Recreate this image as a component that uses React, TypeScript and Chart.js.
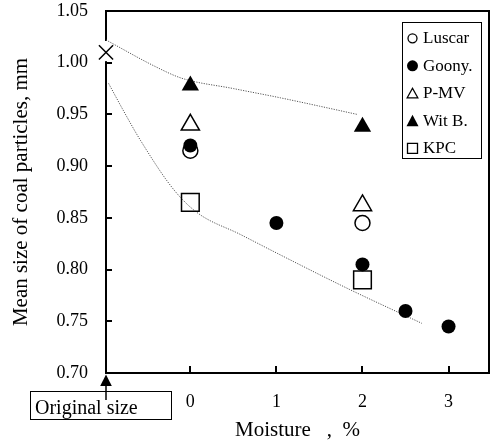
import React, { useEffect, useRef } from 'react';
import { Chart, registerables } from 'chart.js';

Chart.register(...registerables);

const FONT = '"Liberation Serif", "Times New Roman", Times, serif';

// ---- data ----
const xTickValues = [0, 1, 2, 3];
const yTickValues = [0.7, 0.75, 0.8, 0.85, 0.9, 0.95, 1.0, 1.05];
const xMin = -0.98;
const xMax = 3.47;

const seriesNames = ['Luscar', 'Goony.', 'P-MV', 'Wit B.', 'KPC'];

const luscarX = [0, 2];
const luscarY = [0.915, 0.845];
const goonyX = [0, 1, 2, 2.5, 3];
const goonyY = [0.92, 0.845, 0.805, 0.76, 0.745];
const pmvX = [0, 2];
const pmvY = [0.94, 0.862];
const witX = [0, 2];
const witY = [0.978, 0.938];
const kpcX = [0, 2];
const kpcY = [0.865, 0.79];

const originalX = [-0.98];
const originalY = [1.01];
const originalLabel = 'Original size';

const upperCurveX = [-0.98, -0.4, -0.1, 0.5, 1.05, 1.5, 1.94];
const upperCurveY = [1.022, 0.996, 0.985, 0.975, 0.966, 0.958, 0.95];
const lowerCurveX = [-0.95, -0.76, -0.58, -0.19, 0.08, 0.58, 1.05, 1.82, 2.69];
const lowerCurveY = [0.98, 0.951, 0.925, 0.877, 0.855, 0.834, 0.814, 0.782, 0.748];

const yTitle = 'Mean size of coal particles, mm';
const xTitle = 'Moisture   ,  %';

const zip = (xs: number[], ys: number[]) => xs.map((x, i) => ({ x, y: ys[i] }));

const framePlugin = {
  id: 'frame',
  beforeDatasetsDraw(chart: any) {
    const { ctx, chartArea: a, scales } = chart;
    const xs = scales.x;
    const ys = scales.y;
    ctx.save();
    // gap in left axis around the original-size marker
    const g1 = ys.getPixelForValue(1.021);
    const g2 = ys.getPixelForValue(1.0015);
    ctx.fillStyle = '#fff';
    ctx.fillRect(a.left - 3, g1, 6, g2 - g1);
    ctx.strokeStyle = '#000';
    ctx.lineWidth = 2;
    ctx.beginPath();
    ctx.moveTo(a.left - 1, a.top);
    ctx.lineTo(a.right, a.top);
    ctx.lineTo(a.right, a.bottom);
    ctx.stroke();
    ctx.beginPath();
    yTickValues.forEach((v) => {
      const py = Math.round(ys.getPixelForValue(v));
      if (v >= 1.05 || v <= 0.7) return;
      ctx.moveTo(a.left, py);
      ctx.lineTo(a.left + 6, py);
    });
    xTickValues.forEach((v) => {
      const px = Math.round(xs.getPixelForValue(v));
      ctx.moveTo(px, a.bottom);
      ctx.lineTo(px, a.bottom - 7);
    });
    ctx.stroke();
    ctx.restore();
  },
  afterDraw(chart: any) {
    const { ctx, chartArea: a } = chart;
    ctx.save();
    // legend box
    const lx = 402, ly = 22, lw = 79, lh = 136;
    ctx.fillStyle = '#fff';
    ctx.fillRect(lx, ly, lw, lh);
    ctx.strokeStyle = '#000';
    ctx.lineWidth = 1;
    ctx.strokeRect(lx + 0.5, ly + 0.5, lw, lh);
    const mx = 412.5;
    ctx.font = `17px ${FONT}`;
    ctx.textBaseline = 'middle';
    ctx.textAlign = 'left';
    seriesNames.forEach((name, i) => {
      const cy = 38.3 + i * 27.5;
      ctx.fillStyle = '#000';
      ctx.strokeStyle = '#000';
      ctx.lineWidth = 1.3;
      ctx.beginPath();
      if (i === 0) {
        ctx.arc(mx, cy, 4.5, 0, Math.PI * 2);
        ctx.stroke();
      } else if (i === 1) {
        ctx.arc(mx, cy, 5.5, 0, Math.PI * 2);
        ctx.fill();
      } else if (i === 2) {
        ctx.moveTo(mx, cy - 5);
        ctx.lineTo(mx + 5.3, cy + 4.5);
        ctx.lineTo(mx - 5.3, cy + 4.5);
        ctx.closePath();
        ctx.stroke();
      } else if (i === 3) {
        ctx.moveTo(mx, cy - 6);
        ctx.lineTo(mx + 6, cy + 5.5);
        ctx.lineTo(mx - 6, cy + 5.5);
        ctx.closePath();
        ctx.fill();
      } else {
        ctx.rect(mx - 5, cy - 5, 10, 10);
        ctx.stroke();
      }
      ctx.fillText(name, 423, cy + 0.5);
    });
    // "Original size" box and arrow
    ctx.lineWidth = 1;
    ctx.strokeStyle = '#000';
    ctx.strokeRect(30.5, 391.5, 141, 28);
    ctx.font = `20px ${FONT}`;
    ctx.textBaseline = 'alphabetic';
    ctx.fillStyle = '#000';
    ctx.fillText(originalLabel, 35, 414);
    const ax = a.left;
    ctx.lineWidth = 1.5;
    ctx.beginPath();
    ctx.moveTo(ax, 400);
    ctx.lineTo(ax, 384);
    ctx.stroke();
    ctx.beginPath();
    ctx.moveTo(ax, a.bottom + 1.5);
    ctx.lineTo(ax + 5.8, a.bottom + 13);
    ctx.lineTo(ax - 5.8, a.bottom + 13);
    ctx.closePath();
    ctx.fill();
    ctx.restore();
  },
};

export default function App() {
  const ref = useRef<HTMLCanvasElement | null>(null);

  useEffect(() => {
    if (!ref.current) return;
    const open = 'rgba(0,0,0,0)';
    const chart = new Chart(ref.current, {
      type: 'scatter',
      data: {
        datasets: [
          {
            label: 'upper',
            data: zip(upperCurveX, upperCurveY),
            showLine: true,
            borderColor: '#555',
            borderWidth: 1,
            borderDash: [1.2, 1.3],
            pointRadius: 0,
            cubicInterpolationMode: 'monotone',
            order: 10,
          } as any,
          {
            label: 'lower',
            data: zip(lowerCurveX, lowerCurveY),
            showLine: true,
            borderColor: '#555',
            borderWidth: 1,
            borderDash: [1.2, 1.3],
            pointRadius: 0,
            cubicInterpolationMode: 'monotone',
            order: 10,
          } as any,
          {
            label: 'Original',
            data: zip(originalX, originalY),
            pointStyle: 'crossRot',
            pointRadius: 10,
            borderColor: '#000',
            borderWidth: 1.5,
            order: 1,
          },
          {
            label: seriesNames[0],
            data: zip(luscarX, luscarY),
            pointStyle: 'circle',
            pointRadius: 7.5,
            backgroundColor: open,
            borderColor: '#000',
            borderWidth: 1.5,
            order: 5,
          },
          {
            label: seriesNames[1],
            data: zip(goonyX, goonyY),
            pointStyle: 'circle',
            pointRadius: 7,
            backgroundColor: '#000',
            borderColor: '#000',
            borderWidth: 0,
            order: 2,
          },
          {
            label: seriesNames[2],
            data: zip(pmvX, pmvY),
            pointStyle: 'triangle',
            pointRadius: 10.5,
            backgroundColor: open,
            borderColor: '#000',
            borderWidth: 1.5,
            order: 4,
          },
          {
            label: seriesNames[3],
            data: zip(witX, witY),
            pointStyle: 'triangle',
            pointRadius: 10,
            backgroundColor: '#000',
            borderColor: '#000',
            borderWidth: 0,
            order: 3,
          },
          {
            label: seriesNames[4],
            data: zip(kpcX, kpcY),
            pointStyle: 'rect',
            pointRadius: 12.5,
            backgroundColor: open,
            borderColor: '#000',
            borderWidth: 1.5,
            order: 6,
          },
        ],
      },
      options: {
        animation: false,
        responsive: true,
        maintainAspectRatio: false,
        devicePixelRatio: 1,
        layout: { autoPadding: false, padding: { left: 9, top: 11, right: 2, bottom: 0 } },
        plugins: {
          legend: { display: false },
          tooltip: { enabled: false },
        },
        elements: { point: { hoverRadius: 0 } },
        datasets: { scatter: { clip: false } as any },
        scales: {
          x: {
            type: 'linear',
            min: xMin,
            max: xMax,
            afterBuildTicks: (s: any) => {
              s.ticks = xTickValues.map((v) => ({ value: v }));
            },
            afterFit: (s: any) => {
              s.height = 70;
              s.paddingLeft = 0;
              s.paddingRight = 0;
              s.paddingTop = 0;
              s.paddingBottom = 0;
            },
            grid: { display: false, drawTicks: true, tickLength: 18 },
            border: { display: true, color: '#000', width: 2 },
            ticks: {
              color: '#000',
              font: { family: FONT, size: 18 },
              padding: 0,
              maxRotation: 0,
              autoSkip: false,
              callback: (v: any) => String(v),
            },
            title: {
              display: true,
              text: xTitle,
              color: '#000',
              font: { family: FONT, size: 21 },
              padding: { top: 0, bottom: 0 },
            },
          },
          y: {
            type: 'linear',
            min: 0.7,
            max: 1.05,
            afterBuildTicks: (s: any) => {
              s.ticks = yTickValues.map((v) => ({ value: v }));
            },
            afterFit: (s: any) => {
              s.width = 97;
              s.paddingLeft = 0;
              s.paddingRight = 0;
              s.paddingTop = 0;
              s.paddingBottom = 0;
            },
            grid: { display: false, drawTicks: true, tickLength: 18 },
            border: { display: true, color: '#000', width: 2 },
            ticks: {
              color: '#000',
              font: { family: FONT, size: 18 },
              padding: 0,
              autoSkip: false,
              callback: (v: any) => Number(v).toFixed(2),
            },
            title: {
              display: true,
              text: yTitle,
              color: '#000',
              font: { family: FONT, size: 21 },
              padding: { top: 0, bottom: 0 },
            },
          },
        },
      },
      plugins: [framePlugin],
    });
    return () => chart.destroy();
  }, []);

  return (
    <div style={{ position: 'fixed', left: 0, top: 0, width: 491, height: 443, background: '#fff' }}>
      <canvas ref={ref} />
    </div>
  );
}
